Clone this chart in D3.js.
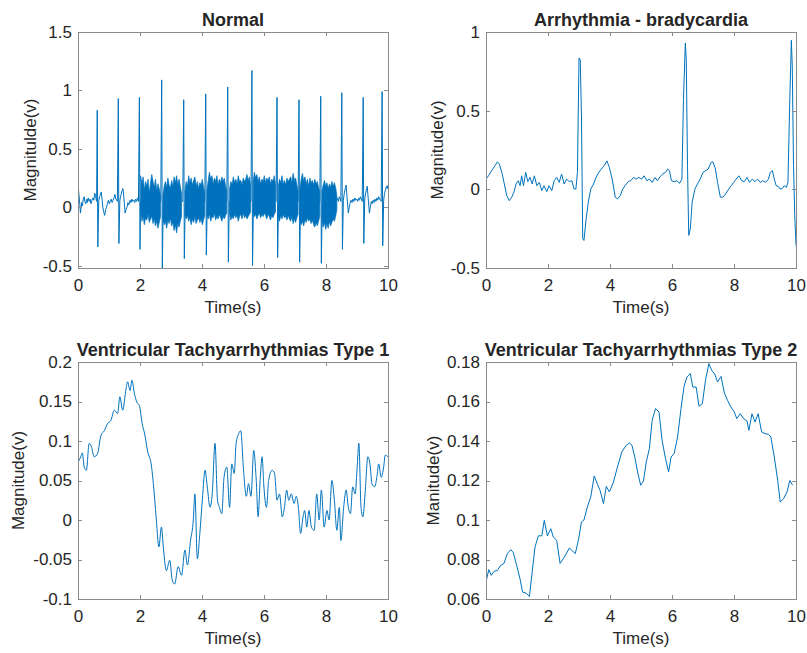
<!DOCTYPE html>
<html><head><meta charset="utf-8">
<script src="https://cdn.jsdelivr.net/npm/d3@7"></script>
<style>
body{margin:0;background:#fff}
svg{display:block}
text{font-family:"Liberation Sans",Arial,Helvetica,sans-serif;fill:#262626}
</style>
</head><body><svg id="c" width="807" height="653"></svg>
<script>
// ---------- data ----------
const timeTicks=[0,2,4,6,8,10];
const timeTickLabels=["0","2","4","6","8","10"];

const normalTicks=[-0.5,0,0.5,1,1.5];
const normalTickLabels=["-0.5","0","0.5","1","1.5"];
const bradyTicks=[-0.5,0,0.5,1];
const bradyTickLabels=["-0.5","0","0.5","1"];
const vt1Ticks=[-0.1,-0.05,0,0.05,0.1,0.15,0.2];
const vt1TickLabels=["-0.1","-0.05","0","0.05","0.1","0.15","0.2"];
const vt2Ticks=[0.06,0.08,0.1,0.12,0.14,0.16,0.18];
const vt2TickLabels=["0.06","0.08","0.1","0.12","0.14","0.16","0.18"];

// Normal ECG: baseline + QRS spikes
const normalT=[0.00,0.02,0.04,0.06,0.08,0.10,0.12,0.14,0.17,0.20,0.22,0.25,0.28,0.30,0.33,0.36,0.39,0.42,0.45,0.48,0.51,0.54,0.57,0.60,0.62,0.64,0.67,0.71,0.75,0.78,0.80,0.83,0.86,0.89,0.92,0.95,0.98,1.01,1.04,1.07,1.10,1.13,1.16,1.19,1.22,1.25,1.27,1.30,1.32,1.35,1.38,1.42,1.45,1.48,1.52,1.55,1.58,1.61,1.64,1.68,1.71,1.74,1.77,1.80,1.83,1.86,1.89,1.92,1.95,1.98,2.00,2.02,
2.67,2.70,2.72,2.75,3.38,3.41,3.43,3.46,4.09,4.12,4.14,4.17,4.80,4.83,4.85,4.88,5.58,5.61,5.63,5.66,6.39,6.42,6.44,6.47,7.10,7.13,7.15,7.18,7.80,7.83,7.85,7.88,8.20,
8.34,8.37,8.40,8.43,8.46,8.48,8.51,8.53,8.56,8.59,8.62,8.65,8.68,8.72,8.75,8.78,8.81,8.84,8.87,8.90,8.93,8.96,8.99,9.02,9.05,9.08,9.11,9.14,9.17,9.20,9.22,9.25,9.28,9.31,9.33,9.36,9.40,9.43,9.46,9.49,9.52,9.55,9.58,9.61,9.64,9.67,9.70,9.73,9.76,9.78,9.81,9.83,9.86,9.89,9.92,9.95,9.98,10.00];
const normalV=[0.17,0.14,0.08,0.02,-0.05,0.00,0.04,0.01,0.07,0.09,0.05,0.03,0.07,0.04,0.08,0.05,0.07,0.03,0.06,0.08,0.06,0.12,0.09,0.05,0.83,-0.34,0.06,0.10,0.13,0.06,0.00,-0.04,-0.07,-0.02,0.00,0.03,0.06,0.03,0.05,0.07,0.04,0.06,0.08,0.11,0.07,0.06,0.05,0.93,-0.31,0.06,0.10,0.14,0.16,0.08,-0.05,-0.02,0.00,0.04,0.02,0.06,0.04,0.07,0.05,0.06,0.04,0.07,0.05,0.08,0.05,0.94,-0.36,0.05,
0.05,1.09,-0.53,0.05,0.05,0.92,-0.44,0.05,0.05,0.97,-0.41,0.05,0.05,1.03,-0.47,0.05,0.05,1.17,-0.50,0.05,0.05,0.94,-0.43,0.05,0.05,0.92,-0.47,0.05,0.05,0.95,-0.48,0.05,0.05,
0.06,0.08,0.05,0.09,0.07,0.05,0.98,-0.36,0.06,0.12,0.16,0.19,0.08,-0.05,0.00,0.04,0.06,0.04,0.07,0.05,0.08,0.06,0.07,0.05,0.08,0.06,0.09,0.07,0.05,0.94,-0.31,0.07,0.12,0.16,0.18,0.08,-0.05,0.00,0.05,0.03,0.06,0.04,0.07,0.05,0.08,0.06,0.09,0.07,0.06,0.05,0.99,-0.33,0.06,0.12,0.15,0.18,0.16,0.19];

// Dense high-frequency noise band (2.0 s - 8.35 s), upper / lower envelope; null = gap at a QRS complex
const normalBandT=[2.02,2.06,2.10,2.14,2.18,2.22,2.26,2.30,2.34,2.38,2.42,2.46,2.50,2.54,2.58,2.62,2.66,null,
2.74,2.78,2.82,2.86,2.90,2.94,2.98,3.02,3.06,3.10,3.14,3.18,3.22,3.26,3.30,3.34,null,
3.45,3.49,3.53,3.57,3.61,3.65,3.69,3.73,3.77,3.81,3.85,3.89,3.93,3.97,4.01,4.05,4.09,null,
4.16,4.20,4.24,4.28,4.32,4.36,4.40,4.44,4.48,4.52,4.56,4.60,4.64,4.68,4.72,4.76,4.80,null,
4.89,4.93,4.97,5.01,5.05,5.09,5.13,5.17,5.21,5.25,5.29,5.33,5.37,5.41,5.45,5.49,5.53,5.57,null,
5.65,5.69,5.73,5.77,5.81,5.85,5.89,5.93,5.97,6.01,6.05,6.09,6.13,6.17,6.21,6.25,6.29,6.33,6.37,null,
6.46,6.50,6.54,6.58,6.62,6.66,6.70,6.74,6.78,6.82,6.86,6.90,6.94,6.98,7.02,7.06,7.10,null,
7.16,7.20,7.24,7.28,7.32,7.36,7.40,7.44,7.48,7.52,7.56,7.60,7.64,7.68,7.72,7.76,7.80,null,
7.87,7.91,7.95,7.99,8.03,8.07,8.11,8.15,8.19,8.23,8.27,8.31,8.35];
const normalBandHi=[0.27,0.20,0.26,0.15,0.22,0.18,0.24,0.12,0.21,0.28,0.22,0.17,0.24,0.14,0.20,0.16,0.10,null,
0.10,0.18,0.22,0.17,0.25,0.19,0.16,0.23,0.18,0.26,0.21,0.27,0.19,0.24,0.18,0.12,null,
0.14,0.22,0.18,0.27,0.21,0.25,0.19,0.23,0.26,0.18,0.22,0.16,0.21,0.19,0.24,0.17,0.12,null,
0.15,0.23,0.30,0.24,0.27,0.20,0.25,0.22,0.27,0.19,0.24,0.21,0.26,0.22,0.25,0.18,0.14,null,
0.16,0.22,0.19,0.26,0.21,0.24,0.20,0.27,0.22,0.23,0.19,0.25,0.22,0.24,0.28,0.23,0.26,0.18,null,
0.22,0.30,0.25,0.28,0.22,0.26,0.20,0.24,0.22,0.27,0.21,0.25,0.23,0.26,0.20,0.24,0.22,0.27,0.20,null,
0.18,0.24,0.21,0.27,0.20,0.23,0.19,0.25,0.22,0.24,0.26,0.21,0.29,0.23,0.25,0.19,0.14,null,
0.16,0.24,0.29,0.22,0.26,0.20,0.24,0.18,0.25,0.21,0.23,0.19,0.24,0.20,0.22,0.17,0.13,null,
0.14,0.19,0.23,0.18,0.21,0.16,0.20,0.17,0.22,0.18,0.21,0.17,0.10];
const normalBandLo=[-0.03,-0.12,-0.08,-0.15,-0.09,-0.11,-0.06,-0.13,-0.10,-0.08,-0.14,-0.10,-0.16,-0.12,-0.18,-0.13,-0.08,null,
-0.10,-0.15,-0.12,-0.18,-0.11,-0.14,-0.09,-0.16,-0.13,-0.20,-0.15,-0.22,-0.14,-0.17,-0.12,-0.08,null,
-0.06,-0.10,-0.07,-0.12,-0.09,-0.15,-0.10,-0.13,-0.08,-0.14,-0.11,-0.09,-0.13,-0.10,-0.15,-0.11,-0.07,null,
-0.07,-0.10,-0.06,-0.12,-0.08,-0.09,-0.05,-0.11,-0.08,-0.10,-0.06,-0.09,-0.12,-0.08,-0.10,-0.07,-0.05,null,
-0.06,-0.11,-0.08,-0.10,-0.06,-0.09,-0.07,-0.12,-0.08,-0.06,-0.10,-0.05,-0.09,-0.07,-0.10,-0.08,-0.06,-0.04,null,
-0.05,-0.08,-0.06,-0.10,-0.07,-0.05,-0.09,-0.06,-0.08,-0.05,-0.07,-0.10,-0.06,-0.08,-0.11,-0.07,-0.09,-0.06,-0.04,null,
-0.08,-0.12,-0.07,-0.10,-0.06,-0.09,-0.08,-0.11,-0.07,-0.10,-0.12,-0.08,-0.14,-0.10,-0.13,-0.09,-0.06,null,
-0.10,-0.15,-0.12,-0.16,-0.11,-0.13,-0.09,-0.12,-0.10,-0.14,-0.11,-0.15,-0.17,-0.13,-0.16,-0.12,-0.08,null,
-0.12,-0.17,-0.13,-0.19,-0.14,-0.18,-0.12,-0.16,-0.13,-0.10,-0.12,-0.08,-0.02];

// Arrhythmia - bradycardia
const bradyT=[0.00,0.08,0.18,0.29,0.37,0.43,0.51,0.58,0.67,0.75,0.83,0.90,0.97,1.04,1.10,1.15,1.21,1.28,1.35,1.42,1.49,1.56,1.64,1.72,1.80,1.87,1.96,2.03,2.12,2.20,2.28,2.36,2.44,2.52,2.60,2.69,2.77,2.84,2.90,2.95,3.00,3.04,3.08,3.12,3.16,3.23,3.30,3.38,3.47,3.55,3.64,3.72,3.81,3.90,3.98,4.07,4.17,4.24,4.33,4.41,4.50,4.59,4.67,4.76,4.84,4.93,5.02,5.10,5.19,5.27,5.36,5.45,5.53,5.62,5.70,5.79,5.86,5.92,5.98,6.07,6.16,6.24,6.32,6.37,6.43,6.46,6.50,6.54,6.59,6.65,6.74,6.82,6.91,7.00,7.08,7.17,7.26,7.32,7.40,7.47,7.56,7.64,7.73,7.83,7.91,7.99,8.07,8.16,8.25,8.33,8.42,8.50,8.59,8.68,8.76,8.85,8.93,9.02,9.11,9.17,9.24,9.30,9.36,9.43,9.49,9.56,9.62,9.69,9.74,9.80,9.85,9.88,9.92,9.96,10.00];
const bradyV=[0.065,0.086,0.118,0.150,0.175,0.160,0.108,0.044,-0.040,-0.072,-0.050,-0.019,0.034,0.055,0.023,0.086,0.023,0.108,0.049,0.076,0.034,0.086,0.023,0.044,-0.008,0.023,-0.015,0.023,-0.008,0.055,0.076,0.044,0.097,0.034,0.065,0.049,0.055,0.002,0.002,0.108,0.835,0.825,0.466,-0.314,-0.325,-0.188,-0.082,0.002,0.034,0.076,0.108,0.129,0.150,0.181,0.139,0.065,-0.050,-0.061,-0.040,0.002,0.027,0.049,0.055,0.076,0.065,0.076,0.065,0.086,0.055,0.065,0.044,0.076,0.055,0.082,0.097,0.108,0.129,0.118,0.055,0.049,0.055,0.038,0.065,0.572,0.930,0.825,0.150,-0.293,-0.251,-0.082,0.002,0.034,0.065,0.108,0.118,0.129,0.171,0.175,0.129,0.044,-0.050,-0.050,-0.030,0.002,0.023,0.044,0.065,0.086,0.055,0.049,0.076,0.044,0.065,0.049,0.065,0.044,0.055,0.044,0.065,0.108,0.118,0.065,0.023,0.019,0.002,0.006,0.023,0.013,0.044,0.572,0.947,0.783,0.150,-0.167,-0.357];

// Ventricular Tachyarrhythmias Type 1
const vt1T=[0.00,0.09,0.14,0.20,0.27,0.36,0.44,0.52,0.63,0.74,0.85,0.95,1.06,1.17,1.28,1.35,1.44,1.55,1.60,1.68,1.74,1.82,1.90,1.98,2.07,2.15,2.25,2.36,2.44,2.52,2.61,2.69,2.76,2.85,2.96,3.04,3.12,3.23,3.34,3.45,3.53,3.63,3.72,3.77,3.85,3.93,4.01,4.10,4.17,4.26,4.33,4.42,4.50,4.56,4.64,4.71,4.80,4.89,4.96,5.04,5.10,5.18,5.25,5.34,5.43,5.50,5.58,5.67,5.75,5.81,5.88,5.94,5.99,6.08,6.15,6.26,6.34,6.42,6.50,6.59,6.66,6.73,6.80,6.88,6.97,7.04,7.11,7.18,7.26,7.31,7.38,7.45,7.53,7.62,7.70,7.78,7.85,7.94,8.03,8.10,8.19,8.27,8.35,8.43,8.48,8.57,8.65,8.72,8.79,8.86,8.94,9.00,9.06,9.13,9.19,9.26,9.35,9.43,9.48,9.57,9.64,9.70,9.78,9.86,9.91,10.00];
const vt1V=[0.073,0.080,0.085,0.067,0.063,0.097,0.092,0.080,0.084,0.107,0.113,0.122,0.126,0.139,0.135,0.156,0.139,0.166,0.175,0.164,0.177,0.160,0.149,0.145,0.122,0.109,0.086,0.071,0.042,0.004,-0.034,-0.009,-0.038,-0.064,-0.051,-0.076,-0.081,-0.059,-0.070,-0.038,-0.057,-0.026,0.000,0.033,-0.049,-0.017,0.025,0.063,0.042,0.016,0.033,0.097,0.025,0.016,0.008,0.054,0.067,0.016,0.071,0.059,0.097,0.109,0.113,0.063,0.030,0.046,0.030,0.088,0.050,0.004,0.054,0.080,0.046,0.016,0.050,0.063,0.059,0.025,0.033,0.004,0.016,0.038,0.025,0.033,0.021,0.030,0.016,-0.017,0.004,0.012,-0.009,0.012,-0.009,-0.013,0.033,0.000,0.038,-0.009,0.012,0.000,0.050,0.025,-0.013,0.016,-0.026,0.016,0.038,0.016,0.008,0.042,0.033,0.063,0.097,0.016,0.004,0.033,0.080,0.067,0.046,0.042,0.054,0.071,0.054,0.067,0.082,0.080];

// Ventricular Tachyarrhythmias Type 2
const vt2T=[0.00,0.09,0.17,0.26,0.37,0.47,0.58,0.69,0.80,0.88,0.99,1.10,1.18,1.29,1.40,1.49,1.58,1.69,1.80,1.88,1.98,2.09,2.17,2.28,2.39,2.52,2.69,2.88,2.98,3.08,3.16,3.27,3.38,3.49,3.60,3.68,3.79,3.88,3.98,4.11,4.24,4.38,4.52,4.63,4.71,4.80,4.89,4.99,5.08,5.17,5.27,5.36,5.47,5.58,5.68,5.79,5.89,5.97,6.07,6.18,6.29,6.39,6.48,6.59,6.67,6.78,6.87,6.98,7.08,7.19,7.28,7.38,7.47,7.58,7.69,7.79,7.90,8.01,8.09,8.20,8.31,8.42,8.48,8.58,8.68,8.78,8.89,9.00,9.11,9.19,9.30,9.41,9.49,9.60,9.71,9.80,9.89];
const vt2V=[0.0686,0.0749,0.0720,0.0740,0.0745,0.0770,0.0780,0.0830,0.0850,0.0835,0.0770,0.0700,0.0635,0.0630,0.0613,0.0737,0.0863,0.0920,0.0920,0.0998,0.0920,0.0956,0.0914,0.0897,0.0780,0.0810,0.0858,0.0830,0.0897,0.0990,0.1000,0.1066,0.1117,0.1223,0.1179,0.1150,0.1083,0.1170,0.1142,0.1192,0.1268,0.1344,0.1378,0.1390,0.1378,0.1319,0.1243,0.1176,0.1197,0.1294,0.1361,0.1505,0.1564,0.1547,0.1403,0.1311,0.1243,0.1319,0.1336,0.1420,0.1564,0.1677,0.1724,0.1741,0.1673,0.1673,0.1576,0.1589,0.1707,0.1792,0.1758,0.1738,0.1699,0.1727,0.1643,0.1606,0.1572,0.1547,0.1513,0.1538,0.1513,0.1501,0.1454,0.1538,0.1496,0.1538,0.1446,0.1437,0.1434,0.1420,0.1319,0.1200,0.1091,0.1108,0.1142,0.1200,0.1176];

// ---------- drawing ----------
const svg=d3.select("#c");
const LINE="#0072BD", BOX="#8a8a8a";

const panels=[
 {title:"Normal",ylabel:"Magnitulde(v)",l:78,r:388,t:32,b:268,ydom:[-0.52,1.5],yt:normalTicks,ytl:normalTickLabels,T:normalT,V:normalV,curve:d3.curveLinear,band:true,ylx:30},
 {title:"Arrhythmia - bradycardia",ylabel:"Magnitude(v)",l:486,r:796,t:32,b:268,ydom:[-0.5,1],yt:bradyTicks,ytl:bradyTickLabels,T:bradyT,V:bradyV,curve:d3.curveLinear,ylx:437},
 {title:"Ventricular Tachyarrhythmias Type 1",ylabel:"Magnitude(v)",l:78,r:388,t:362,b:599,ydom:[-0.1,0.2],yt:vt1Ticks,ytl:vt1TickLabels,T:vt1T,V:vt1V,curve:d3.curveMonotoneX,ylx:18},
 {title:"Ventricular Tachyarrhythmias Type 2",ylabel:"Manitude(v)",l:486,r:796,t:362,b:599,ydom:[0.06,0.18],yt:vt2Ticks,ytl:vt2TickLabels,T:vt2T,V:vt2V,curve:d3.curveLinear,ylx:433}
];

panels.forEach((p,k)=>{
  const x=d3.scaleLinear().domain([0,10]).range([p.l,p.r]);
  const y=d3.scaleLinear().domain(p.ydom).range([p.b,p.t]);
  const g=svg.append("g");
  const cid="clip"+k;
  svg.append("defs").append("clipPath").attr("id",cid).append("rect")
     .attr("x",p.l).attr("y",p.t).attr("width",p.r-p.l).attr("height",p.b-p.t);
  const pg=g.append("g").attr("clip-path",`url(#${cid})`);
  if(p.band){
    const bidx=d3.range(normalBandT.length);
    pg.append("path").datum(bidx)
      .attr("fill",LINE).attr("stroke",LINE).attr("stroke-width",0.7).attr("stroke-linejoin","round")
      .attr("d",d3.area().defined(i=>normalBandT[i]!==null)
        .x(i=>x(normalBandT[i])).y0(i=>y(normalBandLo[i])).y1(i=>y(normalBandHi[i])));
  }
  const idx=d3.range(p.T.length);
  pg.append("path").datum(idx)
    .attr("fill","none").attr("stroke",LINE).attr("stroke-width",1)
    .attr("stroke-linejoin","round")
    .attr("d",d3.line().x(i=>x(p.T[i])).y(i=>y(p.V[i])).curve(p.curve));

  // axes (inward ticks on all four sides)
  const ax=g.append("g").attr("transform",`translate(0,${p.b})`)
    .call(d3.axisBottom(x).tickValues(timeTicks).tickFormat((d,i)=>timeTickLabels[i]).tickSizeInner(-4).tickSizeOuter(0).tickPadding(11));
  const axT=g.append("g").attr("transform",`translate(0,${p.t})`)
    .call(d3.axisTop(x).tickValues(timeTicks).tickFormat("").tickSizeInner(-4).tickSizeOuter(0));
  const ay=g.append("g").attr("transform",`translate(${p.l},0)`)
    .call(d3.axisLeft(y).tickValues(p.yt).tickFormat((d,i)=>p.ytl[i]).tickSizeInner(-4).tickSizeOuter(0).tickPadding(6));
  const ayR=g.append("g").attr("transform",`translate(${p.r},0)`)
    .call(d3.axisRight(y).tickValues(p.yt).tickFormat("").tickSizeInner(-4).tickSizeOuter(0));
  [ax,axT,ay,ayR].forEach(a=>{
    a.select(".domain").remove();
    a.selectAll("line").attr("stroke",BOX).attr("shape-rendering","crispEdges");
    a.selectAll("text").attr("font-size",17).attr("fill","#262626")
      .attr("font-family",'"Liberation Sans",Arial,Helvetica,sans-serif');
  });
  g.append("rect").attr("x",p.l).attr("y",p.t).attr("width",p.r-p.l).attr("height",p.b-p.t)
    .attr("fill","none").attr("stroke",BOX).attr("stroke-width",1).attr("shape-rendering","crispEdges");

  g.append("text").attr("x",(p.l+p.r)/2).attr("y",p.t-6).attr("text-anchor","middle")
    .attr("font-size",18).attr("font-weight","bold").attr("fill","#000").text(p.title);
  g.append("text").attr("x",(p.l+p.r)/2).attr("y",p.b+45).attr("text-anchor","middle")
    .attr("font-size",17).text("Time(s)");
  g.append("text").attr("transform",`translate(${p.ylx},${(p.t+p.b)/2}) rotate(-90)`)
    .attr("text-anchor","middle").attr("dy","0.35em").attr("font-size",17).text(p.ylabel);
});
</script></body></html>
